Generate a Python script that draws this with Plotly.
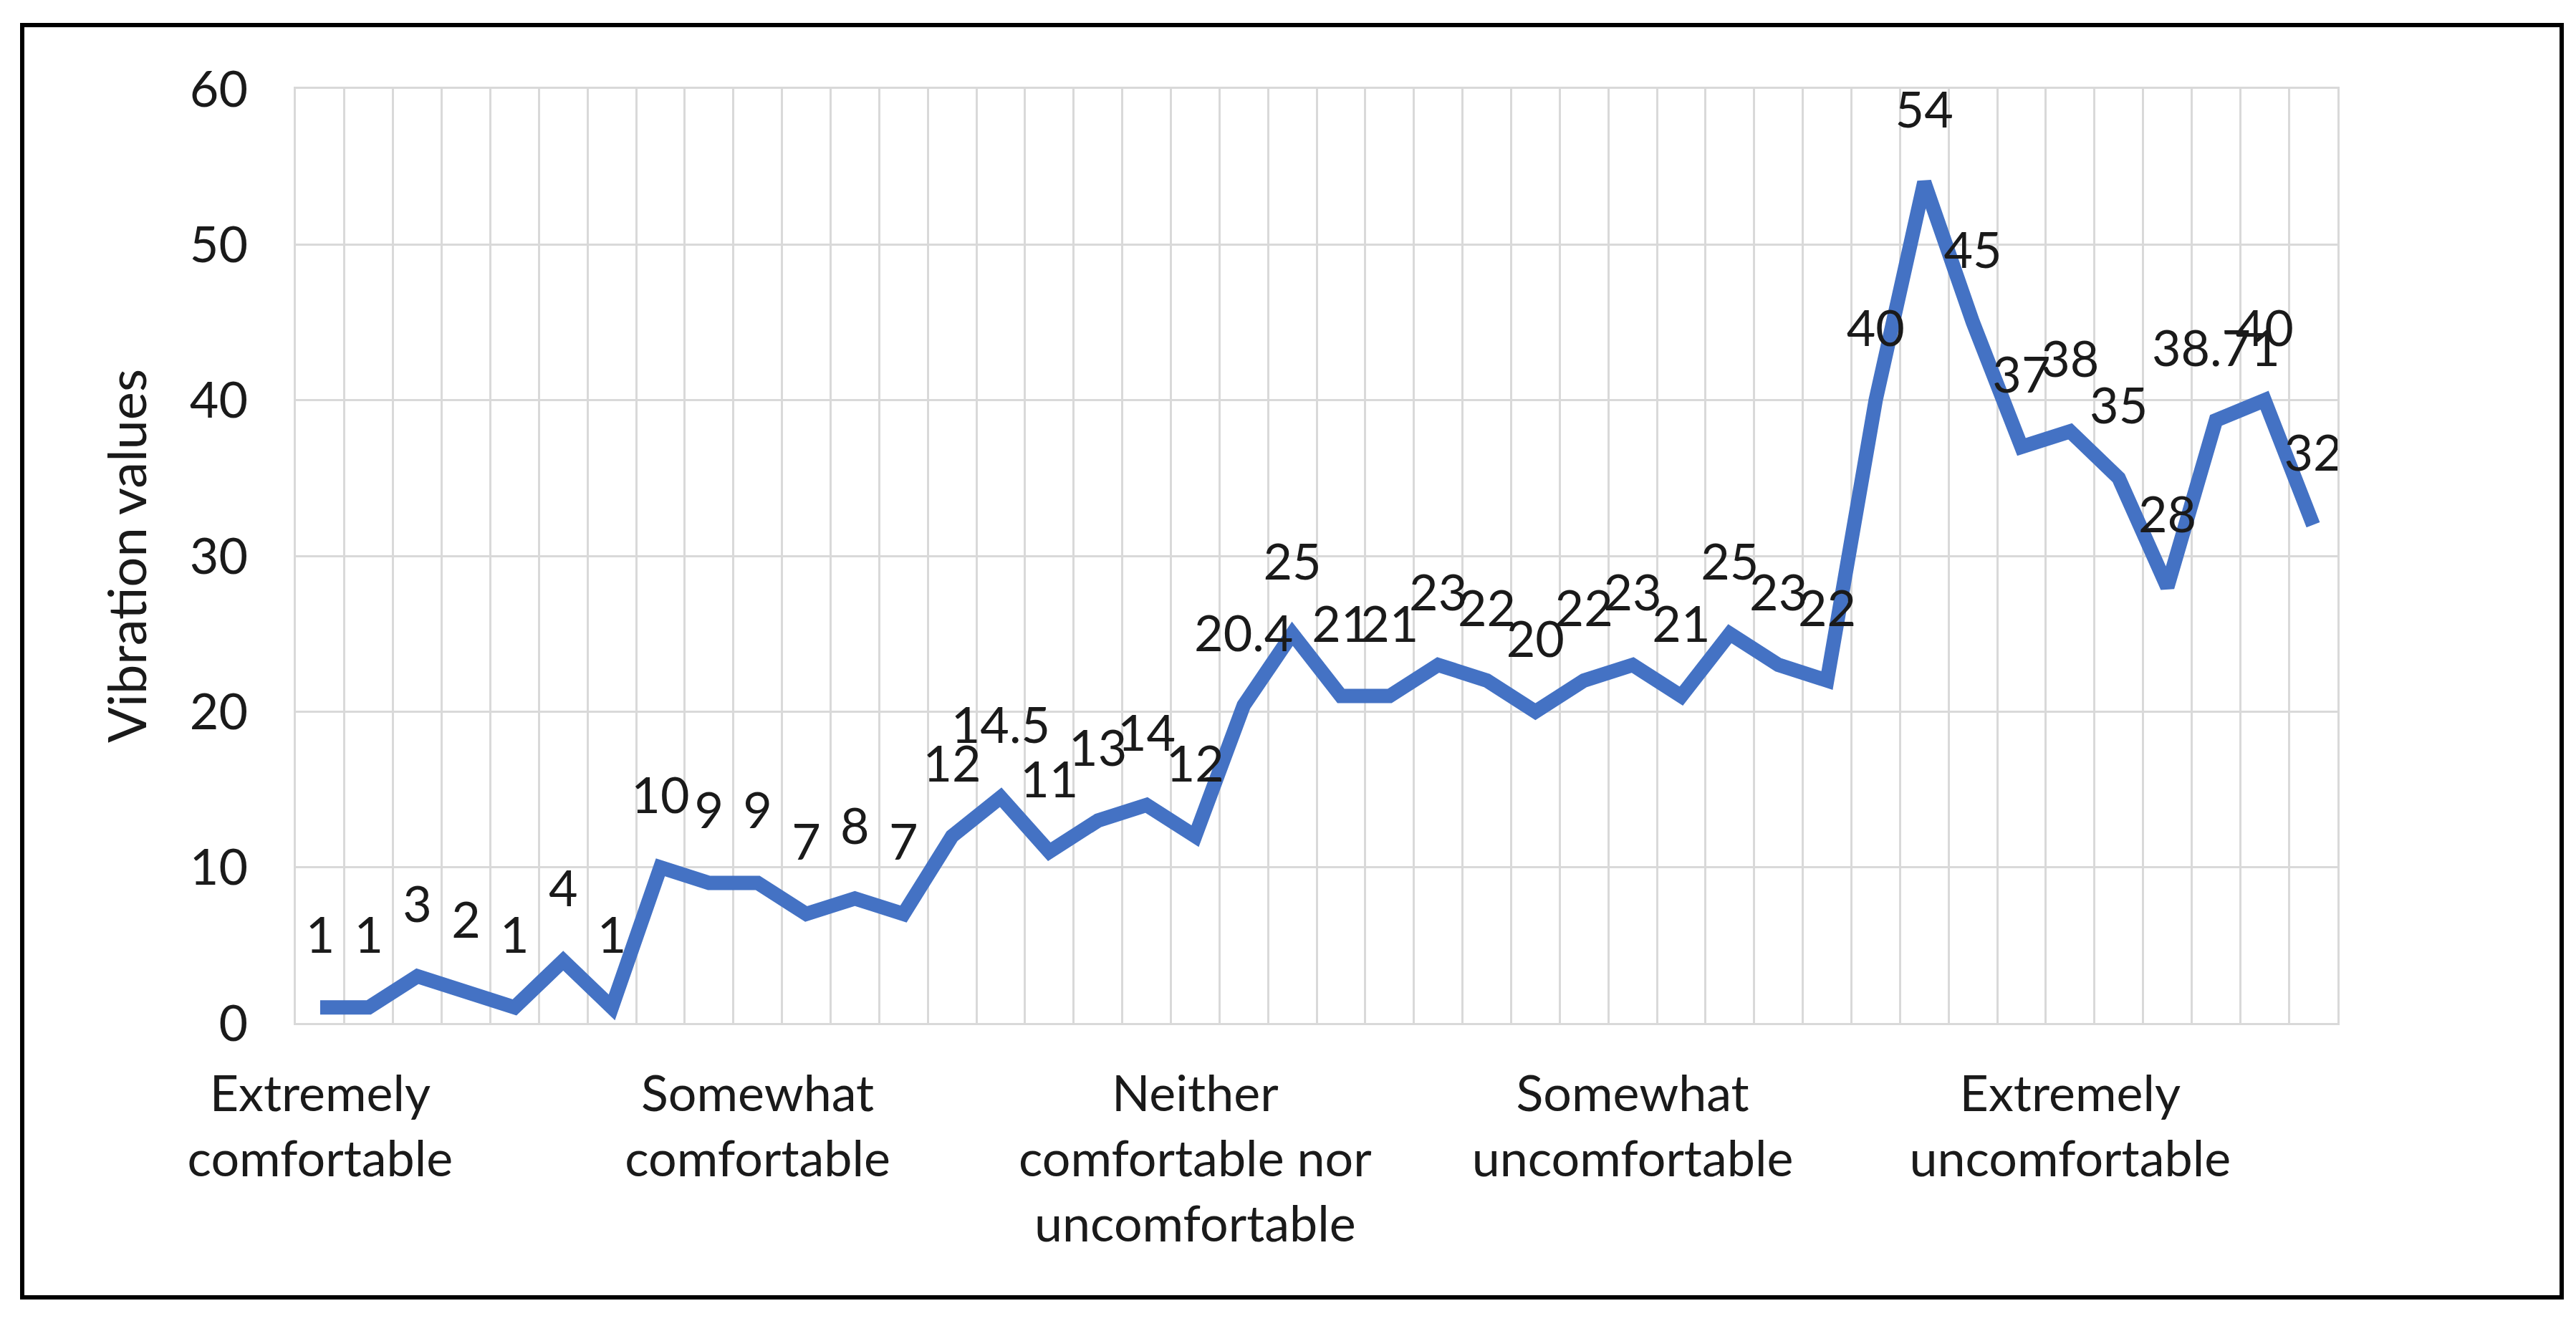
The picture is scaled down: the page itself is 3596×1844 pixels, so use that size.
import plotly.graph_objects as go

values = [1, 1, 3, 2, 1, 4, 1, 10, 9, 9, 7, 8, 7, 12, 14.5, 11, 13, 14, 12,
          20.4, 25, 21, 21, 23, 22, 20, 22, 23, 21, 25, 23, 22, 40, 54, 45,
          37, 38, 35, 28, 38.71, 40, 32]
tick_positions = [0, 9, 18, 27, 36]
tick_labels = ["Extremely<br>comfortable", "Somewhat<br>comfortable",
               "Neither<br>comfortable nor<br>uncomfortable",
               "Somewhat<br>uncomfortable", "Extremely<br>uncomfortable"]
y_title = "Vibration values"

x = list(range(len(values)))
labels = [f"{v:g}" for v in values]

FONT = "Lato, Open Sans, sans-serif"
GRID = "#D9D9D9"
TXT = "#1a1a1a"
FS = 70

W, H = 3596, 1844
L, R, T, B = 405, 341, 116, 424

fig = go.Figure()
fig.add_trace(go.Scatter(
    x=x, y=values, mode="lines+markers+text",
    line=dict(color="#4472C4", width=20),
    marker=dict(size=92, color="rgba(0,0,0,0)"),
    text=labels, textposition="top center",
    textfont=dict(family=FONT, size=FS, color=TXT),
    cliponaxis=False, hoverinfo="skip", showlegend=False,
))

fig.update_layout(
    width=W, height=H,
    margin=dict(l=L, r=R, t=T, b=B),
    paper_bgcolor="white", plot_bgcolor="white",
    font=dict(family=FONT, size=FS, color=TXT),
    showlegend=False,
    xaxis=dict(
        range=[-0.5, len(values) - 0.5],
        tickmode="array", tickvals=tick_positions, ticktext=tick_labels,
        showgrid=False, zeroline=False, ticks="",
        ticklabelstandoff=36,
        tickfont=dict(family=FONT, size=FS, color=TXT),
        minor=dict(tick0=-0.5, dtick=1, showgrid=True, gridcolor=GRID, gridwidth=3, ticks=""),
        showline=True, linecolor=GRID, linewidth=3, mirror=True,
    ),
    yaxis=dict(
        range=[0, 60], dtick=10, tick0=0,
        showgrid=True, gridcolor=GRID, gridwidth=3, zeroline=False,
        ticks="", ticklabelstandoff=50,
        tickfont=dict(family=FONT, size=FS, color=TXT),
        title=dict(text=y_title, font=dict(family=FONT, size=FS + 4, color=TXT), standoff=36),
        showline=True, linecolor=GRID, linewidth=3, mirror=True,
    ),
)

pw, ph = W - L - R, H - T - B
fig.add_shape(type="rect", xref="paper", yref="paper",
              x0=(23 - L) / pw, x1=(3568 - L) / pw,
              y0=(H - B - 1803) / ph, y1=(H - B - 27) / ph,
              line=dict(color="black", width=6), fillcolor="rgba(0,0,0,0)", layer="above")

fig.write_html("out.html")
